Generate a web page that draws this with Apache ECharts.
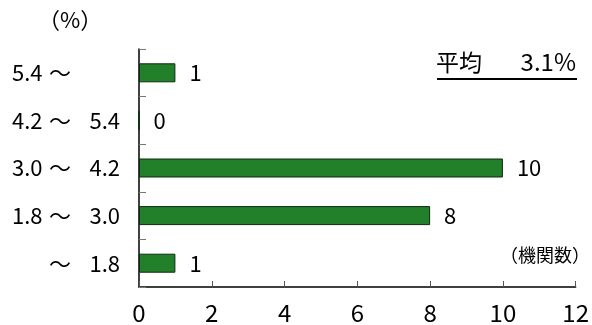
<!DOCTYPE html>
<html>
<head>
<meta charset="utf-8">
<script src="https://cdn.jsdelivr.net/npm/echarts@6/dist/echarts.min.js"></script>
<style>
html,body{margin:0;padding:0;background:#fff;}
#chart{width:592px;height:325px;}
</style>
</head>
<body>
<div id="chart"></div>
<script>
var categories = ['5.4～', '4.2～ 5.4', '3.0～ 4.2', '1.8～ 3.0', '～ 1.8'];
var counts = [1, 0, 10, 8, 1];
var xTicks = [0, 2, 4, 6, 8, 10, 12];
var unitLabel = '（%）';
var countLabel = '（機関数）';
var averageText = '平均　3.1%';

var FONT = '"Noto Sans CJK JP", sans-serif';
var chart = echarts.init(document.getElementById('chart'), null, {renderer: 'canvas'});

function catFormatter(v) {
  var parts = v.split('～');
  var a = parts[0].trim(), b = (parts[1] || '').trim();
  return '{l|' + a + '}{t|～}{r|' + b + '}';
}
var avgParts = averageText.split('　');

var option = {
  backgroundColor: '#fff',
  animation: false,
  grid: {left: 139, right: 13, top: 49, bottom: 37},
  xAxis: {
    type: 'value', min: xTicks[0], max: xTicks[xTicks.length - 1], interval: xTicks[1] - xTicks[0],
    axisLine: {show: true, lineStyle: {color: '#000', width: 1.5}},
    axisTick: {show: true, inside: true, length: 6, lineStyle: {color: '#555'}},
    splitLine: {show: false},
    axisLabel: {color: '#000', fontSize: 24, fontFamily: FONT, margin: 14}
  },
  yAxis: {
    type: 'category', data: categories, inverse: true,
    axisLine: {show: true, lineStyle: {color: '#000', width: 1.5}},
    axisTick: {show: true, inside: true, length: 7, lineStyle: {color: '#777'}},
    axisLabel: {
      margin: 19, color: '#000', fontFamily: FONT, fontSize: 22,
      formatter: catFormatter,
      rich: {
        l: {width: 36, align: 'left', fontSize: 22, fontFamily: FONT, color: '#000'},
        t: {width: 24, align: 'center', fontSize: 22, fontFamily: FONT, color: '#000'},
        r: {width: 48, align: 'right', fontSize: 22, fontFamily: FONT, color: '#000'}
      }
    }
  },
  series: [{
    type: 'bar', data: counts, barWidth: 19,
    itemStyle: {color: '#22802a', borderColor: '#0d2a0d', borderWidth: 1},
    label: {show: true, position: 'right', distance: 14, color: '#000', fontSize: 22, fontFamily: FONT}
  }],
  graphic: [
    {type: 'text', left: 38, top: 9, style: {text: unitLabel, fontSize: 22, fontFamily: FONT, fill: '#000'}},
    {type: 'text', right: 2, top: 246, style: {text: countLabel, fontSize: 18, fontFamily: FONT, fill: '#000'}},
    {type: 'text', left: 436, top: 50, style: {
      text: '{a|' + avgParts[0] + '}{b|' + avgParts[1] + '}',
      rich: {
        a: {width: 76, align: 'left', fontSize: 23, fontFamily: FONT, fill: '#000', color: '#000'},
        b: {width: 64, align: 'right', fontSize: 24, fontFamily: FONT, fill: '#000', color: '#000'}
      }
    }},
    {type: 'line', shape: {x1: 437, y1: 79, x2: 577, y2: 79}, style: {stroke: '#000', lineWidth: 2}}
  ]
};
chart.setOption(option);
</script>
</body>
</html>
